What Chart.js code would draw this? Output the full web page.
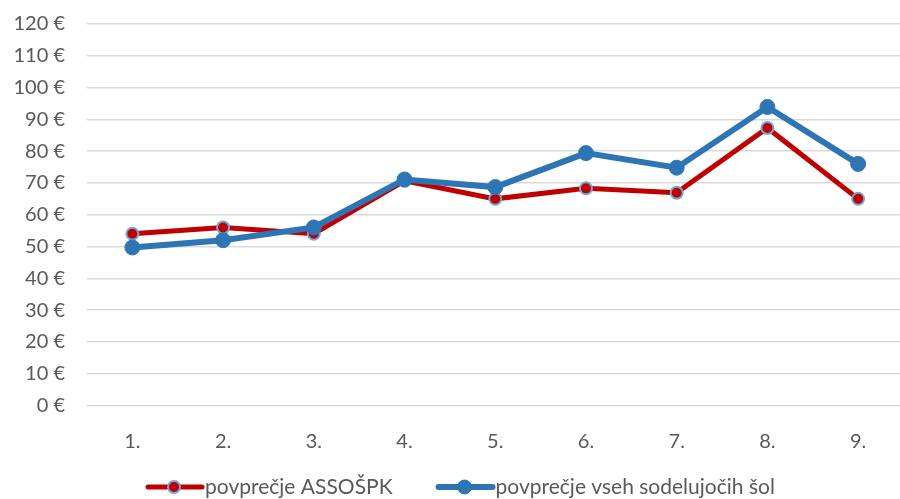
<!DOCTYPE html>
<html>
<head>
<meta charset="utf-8">
<script src="https://cdn.jsdelivr.net/npm/chart.js@4/dist/chart.umd.min.js"></script>
<style>
  html, body { margin: 0; padding: 0; background: #fff; overflow: hidden; }
  #wrap { width: 912px; height: 499px; }
</style>
</head>
<body>
<div id="wrap"><canvas id="chart"></canvas></div>
<script>
const categories = ['1.', '2.', '3.', '4.', '5.', '6.', '7.', '8.', '9.'];
const seriesNames = ['povprečje ASSOŠPK', 'povprečje vseh sodelujočih šol'];
const assospk = [54, 56, 54, 70.7, 65, 68.3, 66.9, 87.3, 65];
const vseSole = [49.7, 52, 56, 71.1, 68.7, 79.4, 74.8, 93.9, 76];

const red = '#C00000';
const blue = '#2E75B6';
const lightBlue = '#6FA8DC';
const textColor = '#595959';
const fontFamily = 'Lato, "Liberation Sans", sans-serif';

// legend drawn by hand: line + marker, then the text right after it
const lineLegend = {
    id: 'lineLegend',
    afterDraw(chart) {
        const ctx = chart.ctx;
        const y = 487;
        const items = [
            { ds: chart.data.datasets[0], r: 6 },
            { ds: chart.data.datasets[1], r: 7 }
        ];
        ctx.save();
        ctx.font = '21px ' + fontFamily;
        ctx.textBaseline = 'middle';
        let x = 145;
        items.forEach((it) => {
            const ds = it.ds;
            ctx.strokeStyle = ds.borderColor;
            ctx.lineWidth = ds.borderWidth;
            ctx.lineCap = 'round';
            ctx.beginPath();
            ctx.moveTo(x + 3, y);
            ctx.lineTo(x + 57, y);
            ctx.stroke();
            ctx.beginPath();
            ctx.arc(x + 29, y, it.r, 0, Math.PI * 2);
            ctx.fillStyle = ds.pointBackgroundColor;
            ctx.fill();
            ctx.lineWidth = ds.pointBorderWidth;
            ctx.strokeStyle = ds.pointBorderColor;
            ctx.stroke();
            ctx.fillStyle = textColor;
            ctx.fillText(ds.label, x + 60, y);
            x += 60 + ctx.measureText(ds.label).width + 43;
        });
        ctx.restore();
    }
};

new Chart(document.getElementById('chart'), {
    type: 'line',
    data: {
        labels: categories,
        datasets: [{
            label: seriesNames[0],
            data: assospk,
            borderColor: red,
            borderWidth: 5,
            pointRadius: 6,
            pointBackgroundColor: red,
            pointBorderColor: lightBlue,
            pointBorderWidth: 2,
            order: 1
        }, {
            label: seriesNames[1],
            data: vseSole,
            borderColor: blue,
            borderWidth: 6,
            pointRadius: 7.5,
            pointBackgroundColor: blue,
            pointBorderColor: blue,
            pointBorderWidth: 1,
            order: 0
        }]
    },
    options: {
        responsive: true,
        maintainAspectRatio: false,
        animation: false,
        layout: { padding: { top: 24, left: 0, right: 0, bottom: 48.5 } },
        plugins: {
            tooltip: { enabled: false },
            legend: { display: false }
        },
        scales: {
            x: {
                offset: true,
                grid: { display: false },
                border: { display: false },
                ticks: {
                    color: textColor,
                    padding: 16,
                    font: { family: fontFamily, size: 20 }
                },
                afterFit: function (scale) { scale.height = 45; }
            },
            y: {
                min: 0,
                max: 120,
                grid: { color: '#D9D9D9', lineWidth: 1.5, drawTicks: false },
                border: { display: false },
                ticks: {
                    stepSize: 10,
                    color: textColor,
                    padding: 22,
                    font: { family: fontFamily, size: 20 },
                    callback: v => v + ' €'
                },
                afterFit: function (scale) {
                    scale.width = 87;
                    scale.paddingTop = 0;
                    scale.paddingBottom = 0;
                }
            }
        }
    },
    plugins: [lineLegend]
});
</script>
</body>
</html>
